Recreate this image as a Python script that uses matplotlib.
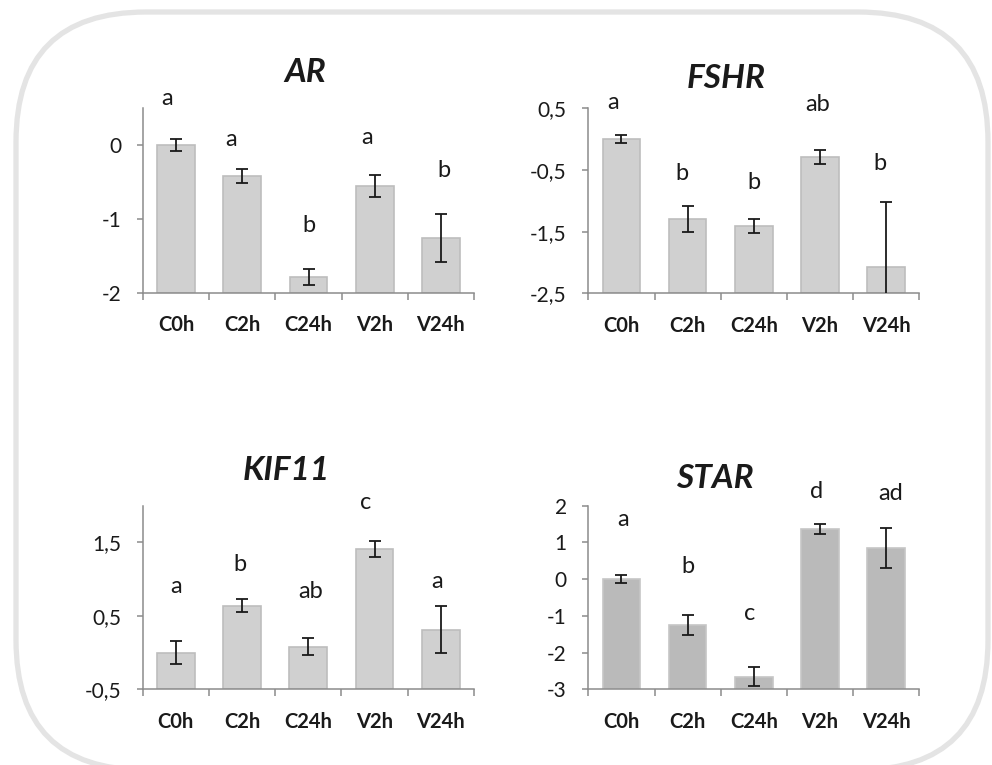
import numpy as np
import matplotlib
matplotlib.use('Agg')
import matplotlib.pyplot as plt
from matplotlib.patches import FancyBboxPatch

plt.rcParams['font.family'] = ['Lato', 'DejaVu Sans']

W, H = 992, 765

groups = ['C0h', 'C2h', 'C24h', 'V2h', 'V24h']

# AR
ar_mean = [0.0, -0.42, -1.79, -0.56, -1.26]
ar_err = [0.08, 0.10, 0.11, 0.15, 0.33]
ar_letters = ['a', 'a', 'b', 'a', 'b']
ar_letter_y = [0.63, 0.08, -1.09, 0.10, -0.35]
ar_letter_dx = [-0.13, -0.17, 0.0, -0.11, 0.05]
ar_ticks = [-2, -1, 0]
ar_ticklabels = ['-2', '-1', '0']

# FSHR
fshr_mean = [0.0, -1.30, -1.41, -0.29, -2.07]
fshr_err = [0.065, 0.21, 0.12, 0.115, 1.05]
fshr_letters = ['a', 'b', 'b', 'ab', 'b']
fshr_letter_y = [0.59, -0.55, -0.70, 0.565, -0.40]
fshr_letter_dx = [-0.12, -0.08, 0.0, -0.03, -0.10]
fshr_ticks = [-2.5, -1.5, -0.5, 0.5]
fshr_ticklabels = ['-2,5', '-1,5', '-0,5', '0,5']

# KIF11
kif_mean = [0.0, 0.64, 0.08, 1.41, 0.31]
kif_err = [0.155, 0.085, 0.115, 0.115, 0.32]
kif_letters = ['a', 'b', 'ab', 'c', 'a']
kif_letter_y = [0.90, 1.20, 0.83, 2.05, 0.97]
kif_letter_dx = [0.0, -0.03, 0.04, -0.14, -0.06]
kif_ticks = [-0.5, 0.5, 1.5]
kif_ticklabels = ['-0,5', '0,5', '1,5']

# STAR
star_mean = [0.0, -1.26, -2.66, 1.36, 0.85]
star_err = [0.10, 0.27, 0.26, 0.14, 0.545]
star_letters = ['a', 'b', 'c', 'd', 'ad']
star_letter_y = [1.63, 0.34, -0.93, 2.38, 2.34]
star_letter_dx = [0.03, 0.0, -0.06, -0.05, 0.07]
star_ticks = [-3, -2, -1, 0, 1, 2]
star_ticklabels = ['-3', '-2', '-1', '0', '1', '2']


def px_axes(fig, left, top, right, bottom):
    return fig.add_axes([left / W, 1 - bottom / H, (right - left) / W, (bottom - top) / H])


def panel(ax, mean, err, letters, letter_y, letter_dx, ylim, ticks, ticklabels, color, edge):
    x = np.arange(len(groups))
    base = ylim[0]
    # bars rise from the axis minimum, as in the spreadsheet chart
    ax.bar(x, np.array(mean) - base, bottom=base, width=0.57, color=color,
           edgecolor=edge, linewidth=1.2, zorder=2)
    ax.errorbar(x, mean, yerr=err, fmt='none', ecolor='#1a1a1a', elinewidth=1.3,
                capsize=4, capthick=1.3, zorder=3)
    ax.set_xlim(-0.5, len(groups) - 0.5)
    ax.set_ylim(*ylim)
    ax.set_yticks(ticks)
    ax.set_yticklabels(ticklabels)
    # category boundaries as tick marks, names at the centres
    ax.set_xticks(np.arange(-0.5, len(groups)))
    ax.set_xticklabels([])
    ax.set_xticks(x, minor=True)
    ax.set_xticklabels(groups, minor=True, fontweight='bold', fontsize=14.5, color='#1a1a1a')
    ax.tick_params(axis='x', which='major', length=5, width=1.1, color='#8c8c8c', direction='out')
    ax.tick_params(axis='x', which='minor', length=0, pad=16)
    ax.tick_params(axis='y', length=4.5, width=1.1, color='#8c8c8c', pad=11,
                   labelsize=15, labelcolor='#1a1a1a')
    for s in ['top', 'right']:
        ax.spines[s].set_visible(False)
    for s in ['left', 'bottom']:
        ax.spines[s].set_color('#8c8c8c')
        ax.spines[s].set_linewidth(1.1)
    ax.patch.set_alpha(0)
    for i, (t, ly, dx) in enumerate(zip(letters, letter_y, letter_dx)):
        ax.text(i + dx, ly, t, ha='center', va='center', fontsize=17, color='#1a1a1a', clip_on=False)


fig = plt.figure(figsize=(W / 100, H / 100), dpi=100)

# rounded frame
bg = fig.add_axes([0, 0, 1, 1])
bg.set_xlim(0, W)
bg.set_ylim(H, 0)
bg.axis('off')
bg.add_patch(FancyBboxPatch((16 + 130, 12 + 130), 972 - 260, 758 - 260,
                            boxstyle='round,pad=130', facecolor='white',
                            edgecolor='#e4e4e4', linewidth=3.8))

ax1 = px_axes(fig, 143, 108, 474, 292.7)
panel(ax1, ar_mean, ar_err, ar_letters, ar_letter_y, ar_letter_dx, (-2, 0.5),
      ar_ticks, ar_ticklabels, '#d0d0d0', '#bdbdbd')
ax2 = px_axes(fig, 588.3, 108.3, 919.3, 293.3)
panel(ax2, fshr_mean, fshr_err, fshr_letters, fshr_letter_y, fshr_letter_dx, (-2.5, 0.5),
      fshr_ticks, fshr_ticklabels, '#d0d0d0', '#bdbdbd')
ax3 = px_axes(fig, 142.7, 505.7, 474, 689.3)
panel(ax3, kif_mean, kif_err, kif_letters, kif_letter_y, kif_letter_dx, (-0.5, 2.0),
      kif_ticks, kif_ticklabels, '#d0d0d0', '#bdbdbd')
ax4 = px_axes(fig, 588.3, 505.7, 919.3, 689.3)
panel(ax4, star_mean, star_err, star_letters, star_letter_y, star_letter_dx, (-3, 2),
      star_ticks, star_ticklabels, '#bababa', '#c6c6c6')

titles = [('AR', 305, 72), ('FSHR', 726.7, 78), ('KIF11', 286.7, 470.7), ('STAR', 715, 478)]
for name, tx, ty in titles:
    fig.text(tx / W, 1 - ty / H, name, ha='center', va='center', fontsize=24,
             fontweight='bold', fontstyle='italic', color='#1a1a1a')

fig.savefig('out.png', dpi=100)
